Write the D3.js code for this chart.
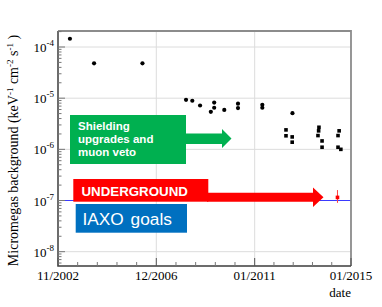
<!DOCTYPE html>
<html>
<head>
<meta charset="utf-8">
<script src="https://cdn.jsdelivr.net/npm/d3@7"></script>
<style>
  body { margin: 0; background: #fff; }
  svg { display: block; }
  .serif { font-family: "Liberation Serif", "Times New Roman", "DejaVu Serif", serif; }
  .sans { font-family: "Liberation Sans", Arial, sans-serif; }
</style>
</head>
<body>
<div id="chart"></div>
<script>
// surface measurements (round markers)
var surfaceDates = ["2003-05-01","2004-05-01","2006-05-05","2008-02-25","2008-05-30","2008-09-25",
  "2009-03-07","2009-04-27","2009-04-27","2009-09-27","2010-04-23","2010-04-23","2011-04-27","2011-04-27","2012-07-27"];
var surfaceBkg = [1.45e-4, 4.8e-5, 4.8e-5, 9.3e-6, 8.9e-6, 7.2e-6,
  5.4e-6, 8.2e-6, 6.5e-6, 5.9e-6, 7.8e-6, 6.4e-6, 7.4e-6, 6.5e-6, 5.1e-6];

// after shielding upgrades (square markers)
var shieldDates = ["2012-04-20","2012-04-20","2012-07-23","2012-07-23","2013-09-02","2013-08-28","2013-08-18",
  "2013-10-19","2013-10-19","2014-07-05","2014-06-18","2014-06-18","2014-07-31"];
var shieldBkg = [2.4e-6, 1.84e-6, 1.75e-6, 1.38e-6, 2.7e-6, 2.3e-6, 1.86e-6,
  1.46e-6, 1.1e-6, 2.3e-6, 1.86e-6, 1.1e-6, 1.0e-6];

// underground point (with error bar)
var ugDates = ["2014-06-10"];
var ugBkg = [1.15e-7];
var ugLow = [0.9e-7];
var ugHigh = [1.6e-7];

var iaxoGoal = 1e-7;

var xTickDates = ["2002-11-01","2006-12-01","2011-01-01","2015-01-01"];
var yDecades = [-4, -5, -6, -7, -8];

var W = 382, H = 307;
var pL = 58, pR = 351, pT = 31, pB = 266;
var parse = d3.timeParse("%Y-%m-%d");

var svg = d3.select("#chart").append("svg")
  .attr("width", W).attr("height", H);

var x = d3.scaleTime()
  .domain([parse("2002-11-01"), parse("2015-01-01")])
  .range([pL, pR]);
var y = d3.scaleLog()
  .domain([Math.pow(10, -8.28), Math.pow(10, -3.687)])
  .range([pB, pT]);

// grid
svg.append("g").selectAll("line").data(yDecades).enter().append("line")
  .attr("x1", pL).attr("x2", pR)
  .attr("y1", function(d) { return y(Math.pow(10, d)); })
  .attr("y2", function(d) { return y(Math.pow(10, d)); })
  .attr("stroke", "#dcdcdc").attr("stroke-width", 1);
svg.append("g").selectAll("line").data(xTickDates.slice(1, 3)).enter().append("line")
  .attr("x1", function(d) { return x(parse(d)); })
  .attr("x2", function(d) { return x(parse(d)); })
  .attr("y1", pT).attr("y2", pB)
  .attr("stroke", "#dcdcdc").attr("stroke-width", 1);

// IAXO goal line
svg.append("line")
  .attr("x1", pL).attr("x2", pR)
  .attr("y1", y(iaxoGoal)).attr("y2", y(iaxoGoal))
  .attr("stroke", "#3a3aff").attr("stroke-width", 1.2);

// frame: top/right gray, left/bottom axes dark
svg.append("path")
  .attr("d", "M" + pL + "," + pT + "H" + pR + "V" + pB)
  .attr("fill", "none").attr("stroke", "#8c8c8c").attr("stroke-width", 1.8);
svg.append("path")
  .attr("d", "M" + pL + "," + pT + "V" + pB + "H" + pR)
  .attr("fill", "none").attr("stroke", "#3c3c3c").attr("stroke-width", 1.5);

// x ticks (inside, pointing up)
var xt = svg.append("g");
for (var i = 0; i < xTickDates.length; i++) {
  var xa = x(parse(xTickDates[i]));
  xt.append("line").attr("x1", xa).attr("x2", xa).attr("y1", pB).attr("y2", pB - 8)
    .attr("stroke", "#555");
  if (i < xTickDates.length - 1) {
    var xb = x(parse(xTickDates[i + 1]));
    for (var k = 1; k < 5; k++) {
      var xm = xa + (xb - xa) * k / 5;
      xt.append("line").attr("x1", xm).attr("x2", xm).attr("y1", pB).attr("y2", pB - 4)
        .attr("stroke", "#777");
    }
  }
}
svg.append("g").selectAll("text").data(xTickDates).enter().append("text")
  .attr("class", "serif")
  .attr("x", function(d) { return x(parse(d)); })
  .attr("y", 280)
  .attr("text-anchor", "middle")
  .attr("font-size", 13)
  .text(function(d) { return d3.timeFormat("%m/%Y")(parse(d)); });
svg.append("text")
  .attr("class", "serif")
  .attr("x", pR).attr("y", 297)
  .attr("text-anchor", "end")
  .attr("font-size", 13)
  .text("date");

// y ticks (inside, pointing right)
var yt = svg.append("g");
for (var d = -9; d <= -3; d++) {
  for (var m = 1; m < 10; m++) {
    var v = m * Math.pow(10, d);
    if (v < y.domain()[0] || v > y.domain()[1]) continue;
    yt.append("line")
      .attr("x1", pL).attr("x2", pL + (m === 1 ? 7 : 3.5))
      .attr("y1", y(v)).attr("y2", y(v))
      .attr("stroke", "#777");
  }
}
var ylab = svg.append("g").selectAll("text").data(yDecades).enter().append("text")
  .attr("class", "serif")
  .attr("x", 54)
  .attr("y", function(d) { return y(Math.pow(10, d)) + 5; })
  .attr("text-anchor", "end")
  .attr("font-size", 13);
ylab.append("tspan").text("10");
ylab.append("tspan").attr("dy", -6).attr("font-size", 9).text(function(d) { return d; });

// y axis title
var yTitle = svg.append("text")
  .attr("class", "serif")
  .attr("transform", "translate(18," + ((pT + pB) / 2 + 2) + ") rotate(-90)")
  .attr("text-anchor", "middle")
  .attr("font-size", 14);
yTitle.append("tspan").text("Micromegas background (keV");
yTitle.append("tspan").attr("dy", -5).attr("font-size", 9).text("-1");
yTitle.append("tspan").attr("dy", 5).text(" cm");
yTitle.append("tspan").attr("dy", -5).attr("font-size", 9).text("-2");
yTitle.append("tspan").attr("dy", 5).text(" s");
yTitle.append("tspan").attr("dy", -5).attr("font-size", 9).text("-1");
yTitle.append("tspan").attr("dy", 5).text(" )");

// data markers
svg.append("g").selectAll("circle").data(surfaceDates).enter().append("circle")
  .attr("cx", function(d) { return x(parse(d)); })
  .attr("cy", function(d, i) { return y(surfaceBkg[i]); })
  .attr("r", 2.1)
  .attr("fill", "#000");
svg.append("g").selectAll("rect").data(shieldDates).enter().append("rect")
  .attr("x", function(d) { return x(parse(d)) - 1.8; })
  .attr("y", function(d, i) { return y(shieldBkg[i]) - 1.8; })
  .attr("width", 3.6).attr("height", 3.6)
  .attr("fill", "#000");

// annotations
// green box + arrow
svg.append("rect").attr("x", 70).attr("y", 115).attr("width", 116).attr("height", 49).attr("fill", "#00b050");
svg.append("path")
  .attr("d", "M185,133.5 H222 V129 L231.5,138.5 L222,148 V144 H185 Z")
  .attr("fill", "#00b050");
var gtxt = svg.append("text")
  .attr("class", "sans").attr("font-weight", "bold")
  .attr("font-size", 11.5).attr("fill", "#fff");
gtxt.append("tspan").attr("x", 78).attr("y", 130).text("Shielding");
gtxt.append("tspan").attr("x", 78).attr("y", 143.3).text("upgrades and");
gtxt.append("tspan").attr("x", 78).attr("y", 156.4).text("muon veto");

// red box + arrow
svg.append("rect").attr("x", 73.3).attr("y", 179).attr("width", 135).attr("height", 22.7).attr("fill", "#ff0000");
svg.append("path")
  .attr("d", "M207,192.7 H313 V187.5 L323.5,197.3 L313,207 V201.7 H207 Z")
  .attr("fill", "#ff0000");
svg.append("text")
  .attr("class", "sans")
  .attr("x", 81.5).attr("y", 195.5)
  .attr("font-weight", "bold")
  .attr("font-size", 13.3).attr("fill", "#fff")
  .text("UNDERGROUND");

// blue box
svg.append("rect").attr("x", 75.7).attr("y", 204).attr("width", 111.3).attr("height", 28.7).attr("fill", "#0070c0");
svg.append("text")
  .attr("class", "sans")
  .attr("x", 82.5).attr("y", 225)
  .attr("font-size", 17.3).attr("fill", "#fff")
  .attr("word-spacing", 2)
  .text("IAXO goals");

// underground point with error bar
svg.append("g").selectAll("line").data(ugDates).enter().append("line")
  .attr("x1", function(d) { return x(parse(d)); })
  .attr("x2", function(d) { return x(parse(d)); })
  .attr("y1", function(d, i) { return y(ugLow[i]); })
  .attr("y2", function(d, i) { return y(ugHigh[i]); })
  .attr("stroke", "#ff4040").attr("stroke-width", 1);
svg.append("g").selectAll("rect.ug").data(ugDates).enter().append("rect")
  .attr("x", function(d) { return x(parse(d)) - 1.8; })
  .attr("y", function(d, i) { return y(ugBkg[i]) - 1.8; })
  .attr("width", 3.6).attr("height", 3.6)
  .attr("fill", "#ff0000");
</script>
</body>
</html>
